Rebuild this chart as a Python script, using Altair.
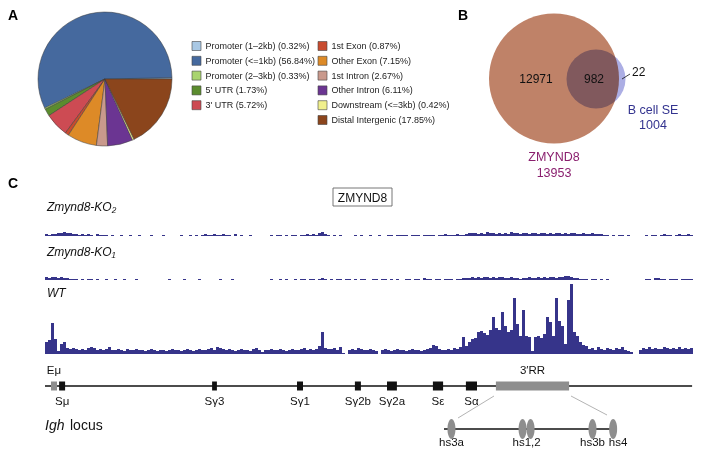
import math
import altair as alt
import pandas as pd

# ---------------- Panel A data ----------------
pie_categories = ["Promoter (1–2kb)", "Promoter (<=1kb)", "Promoter (2–3kb)", "5' UTR", "3' UTR",
                  "1st Exon", "Other Exon", "1st Intron", "Other Intron", "Downstream (<=3kb)",
                  "Distal Intergenic"]
pie_percent = [0.32, 56.84, 0.33, 1.73, 5.72, 0.87, 7.15, 2.67, 6.11, 0.42, 17.85]
pie_colors = ["#a9c8e4", "#45699e", "#a9d46f", "#5b8c2e", "#cd4b53", "#c84b2f",
              "#dd8a27", "#c9998c", "#6b3592", "#f0ef8c", "#8b451c"]

# ---------------- Panel B data ----------------
venn_sets = ["ZMYND8", "B cell SE"]
venn_totals = [13953, 1004]
venn_regions = ["12971", "982", "22"]

# ---------------- Panel C data ----------------
track_names = ["Zmynd8-KO₂", "Zmynd8-KO₁", "WT"]
wt_signal = [12, 14, 31, 15, 3, 10, 12, 6, 5, 6,
             5, 4, 5, 4, 6, 7, 6, 4, 5, 4,
             5, 7, 4, 4, 5, 4, 3, 5, 4, 4,
             5, 4, 4, 3, 4, 5, 4, 3, 4, 4,
             3, 4, 5, 4, 4, 3, 4, 5, 4, 3,
             4, 5, 4, 4, 5, 6, 4, 7, 6, 5,
             4, 5, 4, 3, 4, 5, 4, 4, 3, 5,
             6, 4, 2, 4, 4, 5, 4, 4, 5, 4,
             3, 4, 5, 4, 4, 5, 6, 4, 5, 4,
             5, 8, 22, 6, 5, 5, 6, 4, 7, 1,
             0, 4, 5, 4, 6, 5, 4, 4, 5, 4,
             3, 0, 4, 5, 4, 3, 4, 5, 4, 4,
             3, 4, 5, 4, 4, 3, 4, 5, 6, 9,
             8, 5, 4, 4, 5, 4, 6, 5, 7, 17,
             8, 12, 15, 16, 22, 23, 21, 19, 24, 37,
             26, 24, 42, 28, 22, 24, 56, 30, 18, 44,
             18, 17, 3, 17, 18, 16, 20, 37, 32, 18,
             56, 33, 28, 10, 54, 70, 22, 18, 12, 9,
             8, 5, 6, 4, 7, 5, 4, 6, 5, 4,
             6, 5, 7, 4, 3, 2, 0, 0, 4, 6,
             5, 7, 5, 6, 5, 5, 7, 6, 5, 6,
             5, 7, 5, 6, 5, 6]
ko2_signal = [2, 1, 2, 2, 3, 3, 4, 3, 3, 2,
              2, 1, 2, 1, 2, 1, 0, 2, 1, 1,
              1, 0, 1, 0, 0, 1, 0, 0, 1, 0,
              0, 1, 0, 0, 0, 1, 0, 0, 0, 1,
              0, 0, 0, 0, 0, 1, 0, 0, 1, 0,
              1, 0, 1, 2, 1, 1, 2, 1, 1, 2,
              1, 1, 0, 2, 0, 1, 0, 0, 1, 0,
              0, 0, 0, 0, 0, 1, 0, 1, 1, 0,
              1, 0, 1, 1, 0, 1, 1, 2, 1, 2,
              1, 3, 4, 2, 1, 0, 1, 0, 1, 0,
              0, 0, 0, 1, 0, 1, 0, 0, 1, 0,
              0, 1, 0, 0, 1, 1, 0, 1, 1, 1,
              1, 0, 1, 1, 1, 0, 1, 1, 1, 1,
              0, 1, 1, 2, 1, 1, 1, 2, 1, 1,
              2, 3, 3, 3, 2, 3, 2, 4, 3, 3,
              2, 3, 2, 3, 2, 4, 3, 3, 2, 3,
              3, 2, 3, 3, 2, 3, 3, 2, 3, 2,
              3, 3, 2, 3, 2, 3, 3, 2, 2, 3,
              2, 2, 3, 2, 2, 2, 1, 1, 0, 1,
              0, 1, 1, 0, 1, 0, 0, 0, 0, 0,
              1, 0, 1, 1, 0, 1, 2, 1, 1, 0,
              1, 2, 1, 1, 2, 1]
ko1_signal = [3, 2, 3, 3, 2, 3, 2, 2, 1, 1,
              1, 0, 1, 0, 1, 1, 0, 1, 0, 0,
              1, 0, 0, 1, 0, 0, 1, 0, 0, 0,
              1, 0, 0, 0, 0, 0, 0, 0, 0, 0,
              0, 1, 0, 0, 0, 0, 1, 0, 0, 0,
              0, 1, 0, 0, 0, 0, 0, 0, 1, 0,
              0, 0, 1, 0, 0, 0, 0, 0, 0, 0,
              0, 0, 0, 0, 0, 1, 0, 0, 1, 0,
              1, 0, 0, 1, 0, 1, 1, 0, 1, 1,
              0, 1, 2, 1, 0, 1, 0, 1, 1, 0,
              1, 1, 0, 1, 0, 1, 1, 0, 0, 1,
              1, 0, 1, 1, 0, 1, 0, 1, 0, 0,
              1, 1, 0, 1, 1, 0, 2, 1, 1, 0,
              1, 1, 0, 1, 1, 1, 0, 1, 1, 2,
              2, 2, 3, 2, 3, 2, 3, 3, 2, 3,
              2, 3, 3, 2, 2, 3, 2, 2, 1, 2,
              2, 3, 2, 2, 3, 2, 3, 2, 3, 3,
              2, 3, 3, 4, 4, 3, 2, 2, 1, 1,
              1, 0, 1, 1, 0, 1, 0, 1, 0, 0,
              0, 0, 0, 0, 0, 0, 0, 0, 0, 0,
              1, 1, 0, 2, 2, 1, 1, 0, 1, 1,
              1, 0, 1, 1, 1, 1]

locus_names = ["Eμ", "Sμ", "Sγ3", "Sγ1", "Sγ2b", "Sγ2a", "Sε", "Sα", "3′RR"]
locus_start = [2.0, 4.7, 55.7, 84.0, 103.3, 114.0, 129.3, 140.3, 150.3]
locus_end = [4.0, 6.7, 57.3, 86.0, 105.3, 117.3, 132.7, 144.0, 174.7]
locus_kind = ["enh", "sw", "sw", "sw", "sw", "sw", "sw", "sw", "enh"]
locus_length = 215.7

hs_names = ["hs3a", "hs1", "hs2", "hs3b", "hs4"]
hs_pos = [1.3, 13.7, 15.1, 25.9, 29.5]
hs_label_names = ["hs3a", "hs1,2", "hs3b", "hs4"]
hs_label_pos = [1.3, 14.4, 25.9, 30.35]

FONT = "Liberation Sans"
NAVY = "#36348a"

layers = []

# ---------- panel letters ----------
for letter, px, py in [("A", 0, 1), ("B", 450, 1), ("C", 0, 169)]:
    layers.append(alt.Chart(pd.DataFrame({"t": [letter]})).mark_text(
        font=FONT, fontSize=14, fontWeight="bold", align="left", baseline="top", color="black"
    ).encode(text="t:N", x=alt.value(px), y=alt.value(py)))

# ---------- Panel A: pie ----------
pie_df = pd.DataFrame({"cat": pie_categories, "pct": pie_percent, "idx": list(range(len(pie_categories)))})
layers.append(alt.Chart(pie_df).mark_arc(outerRadius=67, stroke="#3a3a3a", strokeWidth=0.5).encode(
    theta=alt.Theta("pct:Q", stack=True, scale=alt.Scale(range=[math.pi / 2, math.pi / 2 + 2 * math.pi])),
    color=alt.Color("cat:N", scale=alt.Scale(domain=pie_categories, range=pie_colors), legend=None),
    order=alt.Order("idx:Q", sort="descending"),
    x=alt.value(97), y=alt.value(71)))

# legend (two columns: 5 + 6)
leg_df = pie_df.copy()
leg_df["col"] = [0 if i < 5 else 1 for i in leg_df["idx"]]
leg_df["row"] = [i if i < 5 else i - 5 for i in leg_df["idx"]]
leg_df["label"] = [f"{c} ({p:.2f}%)" for c, p in zip(pie_categories, pie_percent)]
lx = alt.X("col:Q", scale=alt.Scale(domain=[0, 1], range=[188.5, 314.5], nice=False, zero=False), axis=None)
ly = alt.Y("row:Q", scale=alt.Scale(domain=[0, 5], range=[38, 112], nice=False, zero=False), axis=None)
layers.append(alt.Chart(leg_df).mark_square(size=81, stroke="#444", strokeWidth=0.6, opacity=1).encode(
    x=lx, y=ly,
    color=alt.Color("cat:N", scale=alt.Scale(domain=pie_categories, range=pie_colors), legend=None)))
layers.append(alt.Chart(leg_df).mark_text(font=FONT, fontSize=9, align="left", baseline="middle",
                                          dx=9, color="#222").encode(x=lx, y=ly, text="label:N"))

# ---------- Panel B: Venn ----------
venn_df = pd.DataFrame({"set": venn_sets, "total": venn_totals, "vx": [0, 1]})
vx = alt.X("vx:Q", scale=alt.Scale(domain=[0, 1], range=[546, 588], nice=False, zero=False), axis=None)
layers.append(alt.Chart(venn_df).transform_filter(alt.datum.vx == 0).mark_circle(
    size=16900, color="#bf8268", opacity=1).encode(x=vx, y=alt.value(70.5)))
layers.append(alt.Chart(venn_df).transform_filter(alt.datum.vx == 1).mark_circle(
    size=3481, color="#acaee4", opacity=1, blend="multiply").encode(x=vx, y=alt.value(71)))
for txt, px, py, al in [(venn_regions[0], 528, 71, "center"), (venn_regions[1], 586, 71, "center"),
                        (venn_regions[2], 624, 64, "left")]:
    layers.append(alt.Chart(pd.DataFrame({"t": [txt]})).mark_text(
        font=FONT, fontSize=12, align=al, baseline="middle", color="#111").encode(
        text="t:N", x=alt.value(px), y=alt.value(py)))
layers.append(alt.Chart(pd.DataFrame({"a": [0]})).mark_rule(color="#111", strokeWidth=0.8).encode(
    x=alt.value(614), x2=alt.value(622), y=alt.value(71), y2=alt.value(66)))
layers.append(alt.Chart(pd.DataFrame({"t": [f"{venn_sets[1]}\n{venn_totals[1]}"]})).mark_text(
    font=FONT, fontSize=12.5, align="center", baseline="middle", color="#33338f", lineHeight=15,
    lineBreak="\n").encode(text="t:N", x=alt.value(645), y=alt.value(102)))
layers.append(alt.Chart(pd.DataFrame({"t": [f"{venn_sets[0]}\n{venn_totals[0]}"]})).mark_text(
    font=FONT, fontSize=12.5, align="center", baseline="middle", color="#8a1f6e", lineHeight=16,
    lineBreak="\n").encode(text="t:N", x=alt.value(546), y=alt.value(149)))

# ---------- Panel C: tracks ----------
def track_df(vals):
    return pd.DataFrame({"start": list(range(len(vals))), "end": [i + 1 for i in range(len(vals))],
                         "val": vals, "zero": [0] * len(vals)})

gx = dict(scale=alt.Scale(domain=[0, 216], range=[37, 685], nice=False, zero=False), axis=None)
for vals, base in [(ko2_signal, 228), (ko1_signal, 272), (wt_signal, 346)]:
    ys = alt.Scale(domain=[0, 70], range=[base, base - 70], nice=False, zero=False)
    layers.append(alt.Chart(track_df(vals)).mark_rect(color=NAVY).encode(
        x=alt.X("start:Q", **gx), x2="end:Q",
        y=alt.Y("val:Q", scale=ys, axis=None), y2="zero:Q"))

for name, py in zip(track_names, [199, 244, 285]):
    layers.append(alt.Chart(pd.DataFrame({"t": [name]})).mark_text(
        font=FONT, fontSize=12, fontStyle="italic", align="left", baseline="middle", color="#111").encode(
        text="t:N", x=alt.value(39), y=alt.value(py)))

# ZMYND8 boxed title
layers.append(alt.Chart(pd.DataFrame({"a": [0]})).mark_rect(fill="white", stroke="#666", strokeWidth=0.9).encode(
    x=alt.value(325), x2=alt.value(384), y=alt.value(180), y2=alt.value(198)))
layers.append(alt.Chart(pd.DataFrame({"t": [venn_sets[0]]})).mark_text(
    font=FONT, fontSize=12, align="center", baseline="middle", color="#111").encode(
    text="t:N", x=alt.value(354.5), y=alt.value(189.5)))

# ---------- Igh locus ----------
layers.append(alt.Chart(pd.DataFrame({"s": [0.0], "e": [locus_length]})).mark_rule(
    color="#111", strokeWidth=1.3).encode(x=alt.X("s:Q", **gx), x2="e:Q", y=alt.value(378)))
loc_df = pd.DataFrame({"name": locus_names, "start": locus_start, "end": locus_end, "kind": locus_kind})
layers.append(alt.Chart(loc_df).mark_rect().encode(
    x=alt.X("start:Q", **gx), x2="end:Q", y=alt.value(373.5), y2=alt.value(382.5),
    color=alt.Color("kind:N", scale=alt.Scale(domain=["enh", "sw"], range=["#8e8e8e", "#111111"]), legend=None)))
layers.append(alt.Chart(loc_df).transform_filter(alt.datum.kind == "sw").transform_calculate(
    mid="(datum.start + datum.end) / 2").mark_text(
    font=FONT, fontSize=11.5, align="center", baseline="middle", color="#111").encode(
    x=alt.X("mid:Q", **gx), y=alt.value(394), text="name:N"))
layers.append(alt.Chart(loc_df).transform_filter(alt.datum.kind == "enh").transform_calculate(
    mid="(datum.start + datum.end) / 2").mark_text(
    font=FONT, fontSize=11.5, align="center", baseline="middle", color="#111").encode(
    x=alt.X("mid:Q", **gx), y=alt.value(363), text="name:N"))

# Igh locus caption
layers.append(alt.Chart(pd.DataFrame({"t": ["Igh"]})).mark_text(
    font=FONT, fontSize=14, fontStyle="italic", align="left", baseline="middle", color="#111").encode(
    text="t:N", x=alt.value(37), y=alt.value(418)))
layers.append(alt.Chart(pd.DataFrame({"t": ["locus"]})).mark_text(
    font=FONT, fontSize=14, align="left", baseline="middle", color="#111").encode(
    text="t:N", x=alt.value(62), y=alt.value(418)))

# 3'RR zoom-in connectors
for x1, y1, x2, y2 in [(486, 388, 450, 410), (563, 388, 599, 407)]:
    layers.append(alt.Chart(pd.DataFrame({"a": [0]})).mark_rule(color="#aaaaaa", strokeWidth=0.9).encode(
        x=alt.value(x1), y=alt.value(y1), x2=alt.value(x2), y2=alt.value(y2)))

# hs sites
hx = dict(scale=alt.Scale(domain=[0, 30], range=[436, 608], nice=False, zero=False), axis=None)
layers.append(alt.Chart(pd.DataFrame({"s": [0.0], "e": [hs_pos[-1]]})).mark_rule(
    color="#111", strokeWidth=1.3).encode(x=alt.X("s:Q", **hx), x2="e:Q", y=alt.value(421)))
ELLIPSE = "M0,-1 A0.4,1 0 1,1 0,1 A0.4,1 0 1,1 0,-1 Z"
layers.append(alt.Chart(pd.DataFrame({"name": hs_names, "pos": hs_pos})).mark_point(
    shape=ELLIPSE, filled=True, size=400, color="#8e8e8e", opacity=1).encode(
    x=alt.X("pos:Q", **hx), y=alt.value(421)))
layers.append(alt.Chart(pd.DataFrame({"name": hs_label_names, "pos": hs_label_pos})).mark_text(
    font=FONT, fontSize=11.5, align="center", baseline="alphabetic", color="#111").encode(
    x=alt.X("pos:Q", **hx), y=alt.value(438), text="name:N"))

chart = alt.layer(*layers).resolve_scale(
    x="independent", y="independent", color="independent", theta="independent"
).properties(
    width=707, height=440, padding=0, autosize=alt.AutoSizeParams(type="none"), background="white"
).configure_view(stroke=None)

chart.save("out.html", embed_options={"renderer": "svg", "actions": False})
